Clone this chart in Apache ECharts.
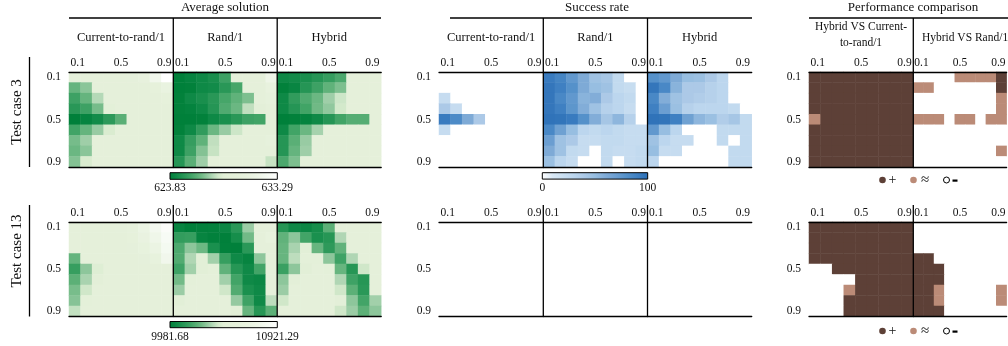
<!DOCTYPE html>
<html><head><meta charset="utf-8">
<script src="https://cdn.jsdelivr.net/npm/echarts@6/dist/echarts.min.js"></script>
<style>html,body{margin:0;padding:0;background:#fff}#c{width:1008px;height:346px}</style>
</head><body><div id="c"></div><script>
// ---------------- DATA ----------------
const ticks = ['0.1','0.2','0.3','0.4','0.5','0.6','0.7','0.8','0.9'];
const strategies = ['Current-to-rand/1','Rand/1','Hybrid'];
const testCases = ['Test case 3','Test case 13'];
const avgRange3 = [623.83, 633.29];
const avgRange13 = [9981.68, 10921.29];
const successRange = [0, 100];
const perfLabels = ['+', '≈', '-'];   // 2, 1, 0

const avgTC3_C2R = [
 [629.5,629.5,629.5,629.5,629.6,629.7,630.2,631.9,633.29],
 [626.4,627.0,629.5,629.5,629.5,629.5,629.5,629.8,630.7],
 [625.6,626.4,627.6,629.4,629.5,629.5,629.5,629.5,629.8],
 [625.1,625.6,626.7,628.8,629.3,629.5,629.5,629.5,629.6],
 [623.83,624.1,624.5,625.2,626.2,629.4,629.5,629.5,629.5],
 [625.7,626.4,627.2,628.3,629.4,629.5,629.5,629.5,629.5],
 [626.7,627.3,629.4,629.5,629.5,629.5,629.5,629.5,629.5],
 [626.5,627.0,629.4,629.5,629.5,629.5,629.5,629.5,629.5],
 [626.9,628.3,629.4,629.5,629.5,629.5,629.5,629.5,629.5]];
const avgTC3_Rand = [
 [623.83,624.1,624.4,624.7,625.6,629.5,629.5,629.6,631.5],
 [623.83,623.9,624.4,624.5,625.1,625.8,629.5,629.5,630.5],
 [623.9,624.4,624.7,625.1,625.8,626.3,626.8,629.4,630.0],
 [623.9,624.0,624.4,625.0,626.0,626.5,627.8,628.7,629.5],
 [623.83,623.83,623.9,624.4,624.7,625.1,625.6,625.7,629.5],
 [623.9,624.4,625.3,626.5,627.2,628.0,629.5,629.5,629.5],
 [624.4,625.4,626.3,627.8,629.4,629.5,629.5,629.5,630.0],
 [624.4,625.6,626.9,627.9,629.4,629.5,629.5,629.5,629.5],
 [625.0,626.2,627.3,629.4,629.5,629.5,629.5,629.5,627.9]];
const avgTC3_Hyb = [
 [624.4,624.5,624.7,625.0,625.4,625.9,629.5,629.5,629.6],
 [623.9,624.2,625.0,625.6,626.3,626.8,629.4,629.5,629.5],
 [624.4,625.3,626.0,626.5,627.3,628.0,629.4,629.5,629.5],
 [624.4,625.0,625.7,626.6,627.1,628.1,629.4,629.5,629.5],
 [623.83,623.9,624.0,624.4,625.0,625.7,626.1,626.1,629.5],
 [624.4,625.7,626.5,627.4,629.4,629.5,629.5,629.5,629.5],
 [625.0,626.2,627.2,629.4,629.5,629.5,629.5,629.5,629.5],
 [625.0,626.4,627.3,629.4,629.5,629.5,629.5,629.5,629.5],
 [625.9,626.8,629.4,629.5,629.5,629.5,629.5,629.5,629.5]];

const avgTC13_C2R = [
 [10545,10545,10545,10550,10560,10600,10700,10800,10880],
 [10545,10545,10545,10545,10550,10580,10660,10760,10850],
 [10545,10545,10545,10545,10545,10560,10620,10700,10820],
 [10235,10540,10545,10545,10545,10545,10560,10620,10780],
 [10140,10300,10440,10540,10545,10545,10545,10545,10545],
 [10220,10340,10470,10540,10545,10545,10545,10545,10545],
 [10270,10400,10540,10545,10545,10545,10545,10545,10545],
 [10290,10490,10540,10545,10545,10545,10545,10545,10545],
 [10380,10540,10545,10545,10545,10545,10545,10545,10545]];
const avgTC13_Rand = [
 [10010,9981.68,9990,9995,10030,10110,10320,10545,10560],
 [10130,10140,10010,9990,9985,10060,10260,10545,10620],
 [10190,10300,10250,10070,9990,9985,10110,10545,10550],
 [10200,10350,10460,10330,10140,10040,10010,10300,10545],
 [10160,10330,10450,10500,10230,10100,10040,10170,10545],
 [10260,10500,10540,10540,10330,10170,10040,10030,10545],
 [10320,10540,10545,10545,10400,10200,10070,10040,10545],
 [10460,10545,10545,10545,10540,10310,10160,10040,10370],
 [10545,10545,10545,10545,10545,10450,10240,10100,10220]];
const avgTC13_Hyb = [
 [10100,10040,10030,10060,10220,10545,10545,10545,10545],
 [10230,10300,10170,10070,10100,10350,10545,10545,10550],
 [10240,10340,10450,10240,10120,10230,10545,10545,10545],
 [10240,10370,10500,10520,10300,10160,10350,10545,10545],
 [10150,10300,10450,10545,10500,10240,10100,10400,10545],
 [10300,10470,10545,10545,10545,10350,10160,10100,10545],
 [10320,10545,10545,10545,10545,10400,10220,10110,10545],
 [10400,10545,10545,10545,10545,10470,10300,10170,10330],
 [10540,10545,10545,10545,10545,10400,10320,10220,10300]];

const succTC3_C2R = [
 [0,0,0,0,0,0,0,0,0],
 [0,0,0,0,0,0,0,0,0],
 [23,0,0,0,0,0,0,0,0],
 [40,23,0,0,0,0,0,0,0],
 [93,83,61,40,0,0,0,0,0],
 [23,0,0,0,0,0,0,0,0],
 [0,0,0,0,0,0,0,0,0],
 [0,0,0,0,0,0,0,0,0],
 [0,0,0,0,0,0,0,0,0]];
const succTC3_Rand = [
 [93,87,74,61,46,43,26,0,0],
 [96,90,79,61,50,46,26,22,0],
 [96,85,74,56,59,40,30,26,0],
 [96,90,76,59,46,34,30,23,0],
 [98,97,93,79,59,43,54,34,0],
 [85,68,50,30,26,30,26,23,23],
 [70,46,40,23,23,26,26,23,23],
 [61,46,26,23,0,26,23,23,26],
 [48,30,23,0,0,26,0,23,26]];
const succTC3_Hyb = [
 [79,74,61,50,48,40,30,0,0],
 [96,85,56,40,40,34,30,0,0],
 [85,59,46,40,37,34,30,0,0],
 [90,70,48,34,30,30,30,26,0],
 [98,97,90,68,54,48,37,43,26],
 [74,50,30,0,0,0,26,26,26],
 [46,30,23,23,0,0,26,0,26],
 [50,23,23,0,0,0,0,26,26],
 [30,0,0,0,0,0,0,26,26]];
const succTC13_C2R = [
 [0,0,0,0,0,0,0,0,0],[0,0,0,0,0,0,0,0,0],[0,0,0,0,0,0,0,0,0],
 [0,0,0,0,0,0,0,0,0],[0,0,0,0,0,0,0,0,0],[0,0,0,0,0,0,0,0,0],
 [0,0,0,0,0,0,0,0,0],[0,0,0,0,0,0,0,0,0],[0,0,0,0,0,0,0,0,0]];
const succTC13_Rand = succTC13_C2R;
const succTC13_Hyb = succTC13_C2R;

// performance: 2 = '+', 1 = '≈', 0 = '-'
const perfTC3_C2R = [
 [2,2,2,2,2,2,2,2,2],[2,2,2,2,2,2,2,2,2],[2,2,2,2,2,2,2,2,2],
 [2,2,2,2,2,2,2,2,2],[1,2,2,2,2,2,2,2,2],[2,2,2,2,2,2,2,2,2],
 [2,2,2,2,2,2,2,2,2],[2,2,2,2,2,2,2,2,2],[2,2,2,2,2,2,2,2,2]];
const perfTC3_Rand = [
 [0,0,0,0,1,1,1,1,2],
 [1,1,0,0,0,0,0,0,2],
 [0,0,0,0,0,0,0,0,1],
 [0,0,0,0,0,0,0,0,1],
 [1,1,1,0,1,1,0,1,1],
 [0,0,0,0,0,0,0,0,0],
 [0,0,0,0,0,0,0,0,0],
 [0,0,0,0,0,0,0,0,1],
 [0,0,0,0,0,0,0,0,0]];
const perfTC13_C2R = [
 [2,2,2,2,2,2,2,2,2],[2,2,2,2,2,2,2,2,2],[2,2,2,2,2,2,2,2,2],
 [2,2,2,2,2,2,2,2,2],
 [0,0,2,2,2,2,2,2,2],
 [0,0,0,0,2,2,2,2,2],
 [0,0,0,1,2,2,2,2,2],
 [0,0,0,2,2,2,2,2,2],
 [0,0,0,2,2,2,2,2,2]];
const perfTC13_Rand = [
 [0,0,0,0,0,0,0,0,0],[0,0,0,0,0,0,0,0,0],[0,0,0,0,0,0,0,0,0],
 [2,2,0,0,0,0,0,0,0],
 [2,2,2,0,0,0,0,0,0],
 [2,2,2,0,0,0,0,0,0],
 [2,2,1,0,0,0,0,0,1],
 [2,2,1,0,0,0,0,0,1],
 [2,2,2,0,0,0,0,0,0]];

// ---------------- STYLE / LAYOUT ----------------
const FONT = '"Liberation Serif","DejaVu Serif",serif';
const INK = '#111';
const GREENS = ['#00803a','#0b8744','#1c914f','#2f9a5b','#42a467','#5aaf76','#74bb88','#94c9a0','#b5d9b8','#d3e9cb','#e2efd7','#e4f0d9','#e5f0da','#e6f1dc','#e8f2de','#eaf3e2','#edf5e6','#f1f7ec','#f5faf2','#fafcf8','#ffffff'];
const BLUES = ['#ffffff','#d9e8f5','#cadff1','#bcd6ee','#acc9e7','#97bee1','#80abd7','#6b9ed1','#5390c9','#3f80c2','#2c70b7'];
const PLUS = '#5d4037', APPROX = '#bb8b77';

const rowsY = [{top:72, h:95, y0:18, y1:167}, {top:222, h:94.5, y0:205, y1:316.5}];
const groups = [
  {xs:[69,173.3,277.2], w:104, title:'Average solution'},
  {xs:[439,543.3,647.5], w:104.2, title:'Success rate'},
  {xs:[809,913.3], w:104.3, title:'Performance comparison'}];

const panels = [
  [[avgTC3_C2R,avgTC3_Rand,avgTC3_Hyb],[succTC3_C2R,succTC3_Rand,succTC3_Hyb],[perfTC3_C2R,perfTC3_Rand]],
  [[avgTC13_C2R,avgTC13_Rand,avgTC13_Hyb],[succTC13_C2R,succTC13_Rand,succTC13_Hyb],[perfTC13_C2R,perfTC13_Rand]]];

const grids=[], xAxes=[], yAxes=[], series=[];
const vmSeries = [[],[],[],[]]; // avg3, avg13, succ, perf
const labelStyle = {fontFamily:FONT, fontSize:11.5, color:INK};
const richX = {
  l:{fontFamily:FONT, fontSize:11.5, color:INK, padding:[0,0,0,6]},
  r:{fontFamily:FONT, fontSize:11.5, color:INK, padding:[0,6,0,0]},
  c:{fontFamily:FONT, fontSize:11.5, color:INK}
};
function xFmt(v, i){ return i===0 ? '{l|'+v+'}' : (i===ticks.length-1 ? '{r|'+v+'}' : '{c|'+v+'}'); }

panels.forEach((row, ri) => {
  row.forEach((grp, gi) => {
    grp.forEach((mat, pi) => {
      const g = grids.length;
      grids.push({left:groups[gi].xs[pi], top:rowsY[ri].top, width:groups[gi].w, height:rowsY[ri].h, show:false});
      const xi = xAxes.length;
      xAxes.push({gridIndex:g, type:'category', data:ticks, position:'top', z:10,
        axisLine:{show:true, lineStyle:{color:'#000', width:1.3}}, axisTick:{show:false},
        splitLine:{show:false}, axisLabel:Object.assign({interval:3, margin:3, formatter:xFmt, rich:richX}, labelStyle)});
      xAxes.push({gridIndex:g, type:'category', data:ticks, position:'bottom', z:10,
        axisLine:{show:true, lineStyle:{color:'#000', width:1.3}}, axisTick:{show:false},
        splitLine:{show:false}, axisLabel:{show:false}});
      yAxes.push({gridIndex:g, type:'category', data:ticks, inverse:true,
        axisLine:{show:false}, axisTick:{show:false}, splitLine:{show:false},
        axisLabel:Object.assign({show:pi===0, interval:3, margin:8}, labelStyle)});
      const data = [];
      mat.forEach((r, y) => r.forEach((v, x) => data.push([x, y, v])));
      const vm = gi===0 ? ri : (gi===1 ? 2 : 3);
      vmSeries[vm].push(series.length);
      series.push({type:'heatmap', xAxisIndex:xi, yAxisIndex:g, data, emphasis:{disabled:true},
        itemStyle:{borderWidth:0}, progressive:0});
    });
  });
});

const visualMap = [
  {type:'continuous', show:false, min:avgRange3[0], max:avgRange3[1], seriesIndex:vmSeries[0], inRange:{color:GREENS}},
  {type:'continuous', show:false, min:avgRange13[0], max:avgRange13[1], seriesIndex:vmSeries[1], inRange:{color:GREENS}},
  {type:'continuous', show:false, min:successRange[0], max:successRange[1], seriesIndex:vmSeries[2], inRange:{color:BLUES}},
  {type:'piecewise', show:false, seriesIndex:vmSeries[3], pieces:[{value:2,color:PLUS},{value:1,color:APPROX},{value:0,color:'#ffffff'}]}
];

// ---------------- DECORATION ----------------
const G = [];
function line(x1,y1,x2,y2,w){ G.push({type:'line', z:20, shape:{x1,y1,x2,y2}, style:{stroke:'#000', lineWidth:w||1.3}}); }
function text(t,x,y,size,opt){ G.push(Object.assign({type:'text', z:20, x, y, style:Object.assign({text:t, fill:INK, font:size+'px '+FONT, textAlign:'center', textVerticalAlign:'middle'}, (opt&&opt.style)||{})}, (opt&&opt.el)||{})); }

// group titles + header lines
text(groups[0].title, 225, 8, 13); text(groups[1].title, 597, 8, 13); text(groups[2].title, 913, 8, 13);
line(69,18,381,18); line(450,18,752,18); line(809,18,1010,18);
// column headers
[0,1,2].forEach(i => text(strategies[i], groups[0].xs[i]+groups[0].w/2, 38, 12.5));
[0,1,2].forEach(i => text(strategies[i], groups[1].xs[i]+groups[1].w/2, 38, 12.5));
text('Hybrid VS Current-', 861, 27, 11.5); text('to-rand/1', 861, 43, 11.5);
text('Hybrid VS Rand/1', 965, 38, 11.5);
// dividers
rowsY.forEach(r => {
  [173.3,277.2,543.3,647.5,913.3].forEach(x => line(x, r.y0, x, r.y1));
});
// row labels
text(testCases[0], 17, 112, 15, {el:{rotation:Math.PI/2}});
text(testCases[1], 17, 251, 15, {el:{rotation:Math.PI/2}});
line(29.5,57,29.5,167); line(29.5,205,29.5,316.5);

// colorbars
function colorbar(x,y,w,h,colors,lo,hi,ly){
  const stops = colors.map((c,i)=>({offset:i/(colors.length-1), color:c}));
  G.push({type:'rect', z:20, shape:{x,y,width:w,height:h}, style:{fill:new echarts.graphic.LinearGradient(0,0,1,0,stops), stroke:'#000', lineWidth:1}});
  text(lo, x, ly, 11.5); text(hi, x+w, ly, 11.5);
}
colorbar(170,172.7,107.3,6.6,GREENS,avgRange3[0].toFixed(2),avgRange3[1].toFixed(2),188);
colorbar(170,321.5,107.3,6.2,GREENS,avgRange13[0].toFixed(2),avgRange13[1].toFixed(2),337);
colorbar(542.3,172.7,105.4,6.4,BLUES,String(successRange[0]),String(successRange[1]),188);

// perf legends
function perfLegend(y){
  G.push({type:'circle', z:20, shape:{cx:882.5,cy:y,r:3.3}, style:{fill:PLUS}});
  text(perfLabels[0], 892.5, y+0.5, 14);
  G.push({type:'circle', z:20, shape:{cx:913.5,cy:y,r:3.3}, style:{fill:APPROX}});
  text(perfLabels[1], 925, y, 15);
  G.push({type:'circle', z:20, shape:{cx:946.5,cy:y,r:3}, style:{fill:'#fff', stroke:'#000', lineWidth:1}});
  G.push({type:'rect', z:20, shape:{x:952.5,y:y-0.5,width:5,height:2.2}, style:{fill:'#000'}});
}
perfLegend(180); perfLegend(331);

const chart = echarts.init(document.getElementById('c'), null, {renderer:'canvas'});
chart.setOption({animation:false, backgroundColor:'#fff', grid:grids, xAxis:xAxes, yAxis:yAxes, visualMap, series, graphic:G});
</script></body></html>
